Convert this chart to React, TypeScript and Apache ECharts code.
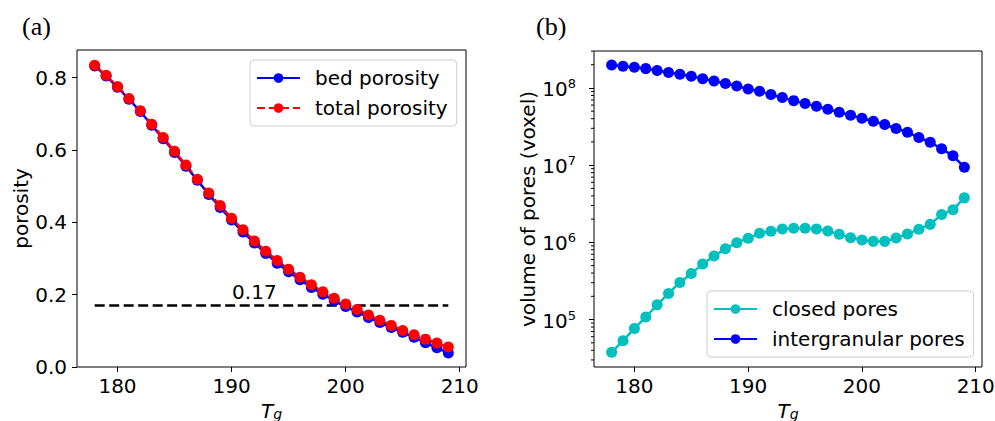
import { useEffect, useRef } from "react";
import * as echarts from "echarts";

const FONT = "DejaVu Sans";
const FS = 20;

// Glass transition temperature samples
const tg = [
  178, 179, 180, 181, 182, 183, 184, 185, 186, 187, 188, 189, 190, 191, 192, 193,
  194, 195, 196, 197, 198, 199, 200, 201, 202, 203, 204, 205, 206, 207, 208, 209,
];
const tgTicks = [180, 190, 200, 210];

// Panel (a): porosity
const bedPorosity = [
  0.832, 0.804, 0.773, 0.740, 0.706, 0.668, 0.631, 0.593, 0.555, 0.516, 0.477, 0.441,
  0.406, 0.373, 0.343, 0.314, 0.287, 0.263, 0.241, 0.220, 0.201, 0.183, 0.167, 0.152,
  0.137, 0.123, 0.109, 0.096, 0.082, 0.067, 0.053, 0.039,
];
const totalPorosity = [
  0.834, 0.806, 0.775, 0.742, 0.708, 0.671, 0.634, 0.596, 0.558, 0.519, 0.481, 0.446,
  0.411, 0.379, 0.348, 0.320, 0.294, 0.270, 0.248, 0.227, 0.208, 0.190, 0.174, 0.159,
  0.144, 0.129, 0.115, 0.101, 0.089, 0.077, 0.066, 0.055,
];
const porosityTicks = [0, 0.2, 0.4, 0.6, 0.8];
const threshold = 0.17;
const thresholdLabelTg = 192;

// Panel (b): pore volumes (voxel)
const closedPores = [
  3.77e4, 5.33e4, 7.64e4, 1.08e5, 1.55e5, 2.18e5, 3.03e5, 3.96e5, 5.23e5, 6.65e5,
  8.28e5, 9.9e5, 1.13e6, 1.31e6, 1.39e6, 1.49e6, 1.52e6, 1.52e6, 1.49e6, 1.4e6,
  1.27e6, 1.15e6, 1.07e6, 1.03e6, 1.03e6, 1.14e6, 1.28e6, 1.48e6, 1.71e6, 2.29e6,
  2.65e6, 3.77e6,
];
const intergranularPores = [
  1.98e8, 1.91e8, 1.85e8, 1.78e8, 1.68e8, 1.59e8, 1.5e8, 1.42e8, 1.32e8, 1.23e8,
  1.14e8, 1.06e8, 9.7e7, 9.06e7, 8.2e7, 7.5e7, 6.85e7, 6.27e7, 5.79e7, 5.29e7,
  4.84e7, 4.43e7, 4.05e7, 3.71e7, 3.36e7, 2.98e7, 2.67e7, 2.28e7, 1.98e7, 1.63e7,
  1.32e7, 9.4e6,
];
const volumeTicks = [1e5, 1e6, 1e7, 1e8];

// Axis ranges and log-axis minor ticks
const tgMin = 176.45;
const tgMax = 210.55;
const porosityMax = 0.876;
const volumeMin = 2.43e4;
const volumeMax = 3.01e8;
const volumeMinorTicks = [
  3e4, 4e4, 5e4, 6e4, 7e4, 8e4, 9e4,
  2e5, 3e5, 4e5, 5e5, 6e5, 7e5, 8e5, 9e5,
  2e6, 3e6, 4e6, 5e6, 6e6, 7e6, 8e6, 9e6,
  2e7, 3e7, 4e7, 5e7, 6e7, 7e7, 8e7, 9e7,
  2e8, 3e8,
];

const pair = (xs: number[], ys: number[]) => xs.map((x, i) => [x, ys[i]]);

// T_g axis title: italic T with a lowered, smaller g
const tgName = "{t|T}{g|g}";
const tgRich = {
  t: { fontFamily: FONT, fontSize: FS, fontStyle: "italic", color: "#000", verticalAlign: "top", lineHeight: 20 },
  g: { fontFamily: FONT, fontSize: 14, fontStyle: "italic", color: "#000", verticalAlign: "bottom", lineHeight: 14, padding: [5, 0, 0, 0] },
};

const tickStyle = { show: true, length: 5, lineStyle: { color: "#000", width: 1 } };

const baseXAxis = (gridIndex: number) => ({
  gridIndex,
  type: "value",
  min: tgMin,
  max: tgMax,
  axisLine: { show: false },
  axisTick: { ...tickStyle, customValues: tgTicks },
  splitLine: { show: false },
  axisLabel: {
    customValues: tgTicks,
    fontFamily: FONT,
    fontSize: FS,
    color: "#000",
    margin: 9,
    formatter: (v: number) => String(Math.round(v)),
  },
  name: tgName,
  nameLocation: "middle",
  nameGap: 22,
  nameTextStyle: { rich: tgRich, verticalAlign: "top" },
});

const legendBase = {
  orient: "vertical",
  padding: [8, 9, 8, 6],
  itemWidth: 43,
  itemHeight: 12,
  itemGap: 10,
  selectedMode: false,
  backgroundColor: "rgba(255,255,255,0.85)",
  borderColor: "#cfcfcf",
  borderWidth: 1,
  borderRadius: 4,
  textStyle: { fontFamily: FONT, fontSize: FS, color: "#000", padding: [0, 0, 0, 10] },
};

const gridBase = {
  show: true,
  borderColor: "#000",
  borderWidth: 1,
  containLabel: false,
  outerBoundsMode: "none",
};

function buildOption() {
  return {
    animation: false,
    backgroundColor: "#fff",
    textStyle: { fontFamily: FONT },
    grid: [
      { ...gridBase, left: 77, top: 50, width: 389, height: 317 },
      { ...gridBase, left: 594, top: 51, width: 388, height: 316 },
    ],
    xAxis: [baseXAxis(0), baseXAxis(1)],
    yAxis: [
      {
        gridIndex: 0,
        type: "value",
        min: 0,
        max: porosityMax,
        axisLine: { show: false },
        axisTick: { ...tickStyle, customValues: porosityTicks },
        splitLine: { show: false },
        axisLabel: {
          customValues: porosityTicks,
          fontFamily: FONT,
          fontSize: FS,
          color: "#000",
          margin: 10,
          formatter: (v: number) => v.toFixed(1),
        },
        name: "porosity",
        nameLocation: "middle",
        nameGap: 46,
        nameTextStyle: { fontFamily: FONT, fontSize: FS, color: "#000" },
      },
      {
        gridIndex: 1,
        type: "log",
        logBase: 10,
        min: volumeMin,
        max: volumeMax,
        axisLine: { show: false },
        axisTick: { ...tickStyle, customValues: volumeTicks },
        splitLine: { show: false },
        axisLabel: {
          customValues: volumeTicks,
          fontFamily: FONT,
          fontSize: FS,
          color: "#000",
          margin: 18,
          formatter: (v: number) => `{b|10}{sup|${Math.round(Math.log10(v))}}`,
          rich: {
            b: { fontFamily: FONT, fontSize: FS, color: "#000", verticalAlign: "bottom", padding: [2, 0, 0, 0] },
            sup: { fontFamily: FONT, fontSize: 13, color: "#000", verticalAlign: "top" },
          },
        },
        name: "volume of pores (voxel)",
        nameLocation: "middle",
        nameGap: 53,
        nameTextStyle: { fontFamily: FONT, fontSize: FS, color: "#000" },
      },
    ],
    legend: [
      { ...legendBase, data: ["bed porosity", "total porosity"], left: 250, top: 60 },
      { ...legendBase, data: ["closed pores", "intergranular pores"], left: 707, top: 291 },
    ],
    series: [
      {
        name: "bed porosity",
        type: "line",
        xAxisIndex: 0,
        yAxisIndex: 0,
        data: pair(tg, bedPorosity),
        symbol: "circle",
        symbolSize: 11,
        showAllSymbol: true,
        lineStyle: { color: "#0000ff", width: 2.5 },
        itemStyle: { color: "#0000ff" },
      },
      {
        name: "total porosity",
        type: "line",
        xAxisIndex: 0,
        yAxisIndex: 0,
        data: pair(tg, totalPorosity),
        symbol: "circle",
        symbolSize: 11,
        showAllSymbol: true,
        lineStyle: { color: "#ff0000", width: 2.5, type: "dashed" },
        itemStyle: { color: "#ff0000" },
      },
      {
        name: "threshold",
        type: "line",
        xAxisIndex: 0,
        yAxisIndex: 0,
        data: [
          [tg[0], threshold],
          [tg[tg.length - 1], threshold],
        ],
        showSymbol: false,
        symbol: "none",
        lineStyle: { color: "#000", width: 2.5, type: [10, 4.5] },
        markPoint: {
          symbol: "circle",
          symbolSize: 0,
          data: [{ coord: [thresholdLabelTg, threshold] }],
          label: {
            show: true,
            position: "top",
            distance: 3,
            formatter: String(threshold),
            fontFamily: FONT,
            fontSize: FS,
            color: "#000",
          },
        },
      },
      {
        name: "closed pores",
        type: "line",
        xAxisIndex: 1,
        yAxisIndex: 1,
        data: pair(tg, closedPores),
        symbol: "circle",
        symbolSize: 11,
        showAllSymbol: true,
        lineStyle: { color: "#00bfbf", width: 2.5 },
        itemStyle: { color: "#00bfbf" },
      },
      {
        name: "intergranular pores",
        type: "line",
        xAxisIndex: 1,
        yAxisIndex: 1,
        data: pair(tg, intergranularPores),
        symbol: "circle",
        symbolSize: 11,
        showAllSymbol: true,
        lineStyle: { color: "#0000ff", width: 2.5 },
        itemStyle: { color: "#0000ff" },
      },
      {
        name: "minor ticks",
        type: "custom",
        xAxisIndex: 1,
        yAxisIndex: 1,
        silent: true,
        clip: false,
        data: volumeMinorTicks.map((v) => [tgMin, v]),
        renderItem: (_params: any, api: any) => {
          const p = api.coord([api.value(0), api.value(1)]);
          return {
            type: "line",
            shape: { x1: p[0] - 3, y1: p[1], x2: p[0], y2: p[1] },
            style: { stroke: "#000", lineWidth: 1 },
          };
        },
      },
    ],
    graphic: [
      {
        type: "text",
        left: 22,
        top: 13,
        style: { text: "(a)", fontFamily: "Liberation Serif", fontSize: 26, fill: "#000" },
      },
      {
        type: "text",
        left: 536,
        top: 13,
        style: { text: "(b)", fontFamily: "Liberation Serif", fontSize: 26, fill: "#000" },
      },
    ],
  };
}

export default function App() {
  const ref = useRef<HTMLDivElement>(null);
  useEffect(() => {
    if (!ref.current) return;
    const chart = echarts.init(ref.current, null, { renderer: "svg" });
    chart.setOption(buildOption() as any);
    return () => chart.dispose();
  }, []);
  return (
    <div
      ref={ref}
      style={{ position: "absolute", left: 0, top: 0, width: 995, height: 421, background: "#fff" }}
    />
  );
}
